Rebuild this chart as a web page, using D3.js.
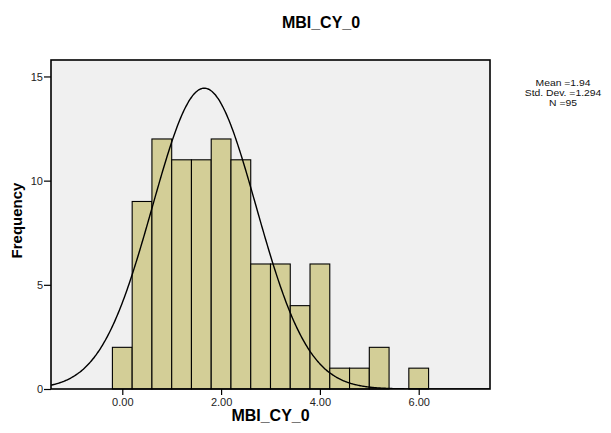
<!DOCTYPE html>
<html>
<head>
<meta charset="utf-8">
<script src="https://cdn.jsdelivr.net/npm/d3@7"></script>
<style>
  html, body { margin: 0; padding: 0; background: #fff; }
  svg { display: block; font-family: "Liberation Sans", Arial, sans-serif; }
</style>
</head>
<body>
<svg id="chart" width="611" height="433"></svg>
<script>
// Histogram of MBI_CY_0 with a fitted normal curve
const chartTitle = "MBI_CY_0";
const xLabel = "MBI_CY_0";
const yLabel = "Frequency";

// Bins: lower edges and their counts
const binLowerEdges = [-0.2, 0.2, 0.6, 1.0, 1.4, 1.8, 2.2, 2.6, 3.0, 3.4, 3.8, 4.2, 4.6, 5.0, 5.4, 5.8];
const binCounts     = [2, 9, 12, 11, 11, 12, 11, 6, 6, 4, 6, 1, 1, 2, 0, 1];
const binWidth = 0.4;

// Axis ticks
const xTicks = [0, 2, 4, 6];
const yTicks = [0, 5, 10, 15];

// Summary statistics text
const statLines = ["Mean =1.94", "Std. Dev. =1.294", "N =95"];
const sampleSize = 95;

// Normal curve parameters as drawn
const curveCenter = 1.66;
const curveSpread = 1.05;

const svg = d3.select("#chart");
const plot = { left: 51, right: 490, top: 60, bottom: 389 };

const x = d3.scaleLinear().domain([-1.443, 7.443]).range([plot.left, plot.right]);
const y = d3.scaleLinear().domain([0, 15.79]).range([plot.bottom, plot.top]);

// Plot background
svg.append("rect")
  .attr("x", plot.left).attr("y", plot.top)
  .attr("width", plot.right - plot.left).attr("height", plot.bottom - plot.top)
  .attr("fill", "#f0f0f0");

svg.append("defs").append("clipPath").attr("id", "plotClip")
  .append("rect")
  .attr("x", plot.left).attr("y", plot.top)
  .attr("width", plot.right - plot.left).attr("height", plot.bottom - plot.top);

// Bars
const bins = binLowerEdges.map((lo, i) => ({ lo, hi: lo + binWidth, count: binCounts[i] }));
svg.append("g").selectAll("rect")
  .data(bins.filter(d => d.count > 0))
  .join("rect")
  .attr("x", d => x(d.lo))
  .attr("y", d => y(d.count))
  .attr("width", d => x(d.hi) - x(d.lo))
  .attr("height", d => y(0) - y(d.count))
  .attr("fill", "#d3ce97")
  .attr("stroke", "#000")
  .attr("stroke-width", 1.1);

// Normal curve scaled to counts per bin
const curvePts = d3.range(-1.443, 7.443, 0.02).map(v => {
  const z = (v - curveCenter) / curveSpread;
  const dens = Math.exp(-0.5 * z * z) / (curveSpread * Math.sqrt(2 * Math.PI));
  return [v, dens * sampleSize * binWidth];
});
svg.append("path")
  .datum(curvePts)
  .attr("clip-path", "url(#plotClip)")
  .attr("fill", "none")
  .attr("stroke", "#000")
  .attr("stroke-width", 1.4)
  .attr("d", d3.line().x(d => x(d[0])).y(d => y(d[1])).curve(d3.curveBasis));

// Frame
svg.append("rect")
  .attr("x", plot.left).attr("y", plot.top)
  .attr("width", plot.right - plot.left).attr("height", plot.bottom - plot.top)
  .attr("fill", "none")
  .attr("stroke", "#000")
  .attr("stroke-width", 1.6);

// Axes
const xAxis = svg.append("g")
  .attr("transform", `translate(0,${plot.bottom})`)
  .call(d3.axisBottom(x).tickValues(xTicks).tickFormat(d3.format(".2f")).tickSize(6).tickSizeOuter(0));
const yAxis = svg.append("g")
  .attr("transform", `translate(${plot.left},0)`)
  .call(d3.axisLeft(y).tickValues(yTicks).tickFormat(d3.format("d")).tickSize(7).tickSizeOuter(0));

[xAxis, yAxis].forEach(g => {
  g.select(".domain").remove();
  g.selectAll(".tick line").attr("stroke", "#000").attr("stroke-width", 1.2);
  g.selectAll(".tick text")
    .attr("fill", "#222")
    .style("font-size", "11px")
    .style("font-family", "\"Liberation Sans\", Arial, sans-serif");
});
xAxis.selectAll(".tick text").attr("dy", null).attr("y", 17);
yAxis.selectAll(".tick text").attr("x", -8).attr("dy", "0.36em");

// Titles
svg.append("text")
  .attr("x", 321).attr("y", 28)
  .attr("text-anchor", "middle")
  .style("font-size", "16px").style("font-weight", "bold")
  .text(chartTitle);

svg.append("text")
  .attr("x", (plot.left + plot.right) / 2).attr("y", 421)
  .attr("text-anchor", "middle")
  .style("font-size", "16px").style("font-weight", "bold")
  .text(xLabel);

svg.append("text")
  .attr("transform", `translate(22,${(plot.top + plot.bottom) / 2 - 4}) rotate(-90)`)
  .attr("text-anchor", "middle")
  .style("font-size", "15px").style("font-weight", "bold")
  .text(yLabel);

// Statistics block (slightly widened lettering)
svg.append("g")
  .attr("transform", "translate(563,0) scale(1.15,1)")
  .selectAll("text")
  .data(statLines)
  .join("text")
  .attr("x", 0)
  .attr("y", (d, i) => 86 + i * 10)
  .attr("text-anchor", "middle")
  .style("font-size", "9px")
  .attr("fill", "#111")
  .text(d => d);
</script>
</body>
</html>
